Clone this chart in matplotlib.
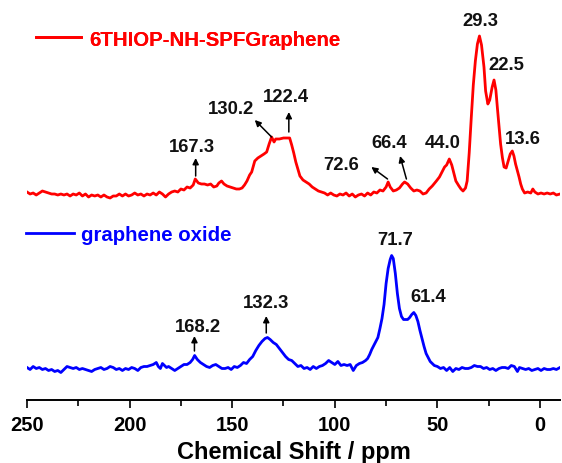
"""Solid-state 13C NMR spectra: 6THIOP-NH-SPFGraphene vs graphene oxide."""

import matplotlib.pyplot as plt
from matplotlib.ticker import MultipleLocator

plt.rcParams["font.family"] = ["Liberation Sans", "DejaVu Sans"]
plt.rcParams["font.weight"] = "bold"

# --- data (chemical shift in ppm, intensity in a.u. above each baseline) ---
red_ppm = [
    250, 248.5, 247, 245.5, 244, 242.5, 241, 239.5, 238, 236.5, 235, 233.5,
    232, 230.5, 229, 227.5, 226, 224.5, 223, 221.5, 220, 218.5, 217, 215.5,
    214, 212.5, 211, 209.5, 208, 206.5, 205, 203.5, 202, 200.5, 199, 197.5,
    196, 194.5, 193, 191.5, 190, 188.5, 187, 185.5, 184, 182.5, 181, 179.5,
    178, 176.5, 175, 173.5, 172, 170.5, 169, 168, 166.5, 165, 163.5, 162,
    160.5, 159, 157.5, 156.5, 155.2, 154, 152.5, 151, 149.5, 148, 146.5, 145.2,
    144, 142.8, 141.5, 140.5, 139, 137.5, 136, 134.5, 133.2, 132, 130.8, 129.6,
    128.8, 127, 125, 123.5, 122, 121, 120, 119, 118, 117, 115.5, 114,
    112.5, 111, 109.5, 108, 106.5, 105, 103.5, 102, 100.5, 99, 97.5, 96,
    94.5, 93, 91.5, 90, 88.5, 87, 85.5, 84, 82.5, 81, 79.5, 78,
    76.5, 75, 74, 73, 71.5, 70, 68.5, 67, 66, 64.5, 63, 61.5,
    60, 58.5, 57, 55.5, 54, 52.5, 50.5, 49, 47.5, 46.5, 45.5, 44.2,
    43, 42, 41, 39.5, 38.5, 37.5, 36.3, 35.5, 34.5, 33.5, 32.5, 31.5,
    30.5, 29.5, 28.5, 27.3, 26.5, 25.4, 24.5, 23.3, 22.4, 21.5, 20.8, 20,
    19.2, 18.3, 17.5, 16.5, 15.5, 14.5, 13.5, 12.7, 11.9, 11, 10.2, 9.4,
    8.6, 7.5, 6, 4.5, 3.5, 2.5, 1, -0.5, -2, -3.5, -5, -6.5,
    -8, -9.75,
]
red_int = [
    1, -1, 0, -2, 0, 2, 1, 0, -1, -1, -2, -1,
    -2, -1, -3, -1, -2, 0, -3, -1, -4, -2, -3, -2,
    -4, -2, -4, -5, -3, -3, -1, -3, -1, -3, -2, 0,
    -2, -1, -3, -1, -2, 0, -2, 1, -1, -4, -1, 1,
    2, 1, 4, 3, 6, 5, 8, 14, 10, 9, 9, 8,
    9, 6, 7, 10, 12, 9, 7, 6, 5, 4, 4, 5,
    8, 12, 18, 21, 32, 35, 37, 39, 41, 49, 56, 51,
    54, 54, 55, 55, 55, 48, 40, 31, 24, 17, 13, 11,
    9, 6, 4, 2, 1, 0, -2, 0, -2, -3, -1, -2,
    0, -3, -1, -4, -2, -1, -3, 0, -2, 1, 0, 3,
    2, 6, 11, 6, 2, 3, 5, 9, 11, 9, 5, 2,
    3, 2, -1, 0, 4, 7, 12, 16, 22, 26, 28, 34,
    28, 20, 12, 7, 4, 2, 5, 12, 40, 75, 108, 132,
    149, 157, 148, 126, 102, 89, 93, 106, 113, 103, 86, 68,
    49, 35, 26, 25, 32, 39, 42, 37, 29, 22, 16, 9,
    4, 0, 1, 0, 4, 1, -1, 0, -1, 0, -1, 0,
    -2, -1,
]

blue_ppm = [
    250, 248.5, 247, 245.5, 244, 242.5, 241, 239.5, 238, 236.5, 235, 233.5,
    232, 230.5, 229, 227.5, 226, 224.5, 223, 221.5, 220, 218.5, 217, 215.5,
    214, 212.5, 211, 209.5, 208, 206.5, 205, 203.5, 202, 200.5, 199, 197.5,
    196, 194.5, 193, 191.5, 190, 188.5, 187, 186, 185, 184, 183, 182,
    181, 179.5, 178, 176.5, 175, 173.5, 172, 170.5, 169.3, 168.3, 167, 165.5,
    164, 162.5, 161, 159.5, 158, 156.5, 155, 153.5, 152, 150.5, 149, 147.5,
    146, 144.5, 143, 141.5, 140, 138.5, 137, 135.5, 134, 132.8, 131.5, 130,
    128.5, 127, 125.5, 124, 122.5, 121, 119.5, 118, 116.5, 115, 113.5, 112,
    110.5, 109, 107.5, 106, 104.5, 103, 101.5, 100, 98.5, 97, 95.5, 94,
    92.5, 91, 89.5, 88, 86.5, 85, 84, 83, 82, 81, 80, 79,
    78, 77, 76, 75, 74, 73, 72.3, 71.5, 70.5, 69.5, 68.5, 67.5,
    66.5, 65.5, 64.5, 63.5, 62.5, 61.5, 60.5, 59.5, 58.5, 57.5, 56.5, 55.5,
    54.5, 53.5, 52.5, 51.5, 50, 48.5, 47, 45.5, 44, 42.5, 41, 39.5,
    38, 36.5, 35, 33.5, 32, 30.5, 29, 27.5, 26, 24.5, 23, 21.5,
    20, 18.5, 17, 15.5, 14, 12.5, 11, 10, 8.5, 7, 5.5, 4,
    2.5, 1, -0.5, -2, -3.5, -5, -6.5, -8, -9.75,
]
blue_int = [
    1, -1, 2, 0, 1, -1, 0, -2, -1, -3, -2, -4,
    -1, 2, 1, 0, 1, -1, 0, -1, -2, -3, -1, 0,
    1, -1, 0, 2, 1, -1, 0, -2, 0, -1, 1, 0,
    -2, 1, 2, 2, 3, 4, 6, 2, 0, 5, 3, 1,
    2, 0, -2, 0, 2, 4, 4, 6, 9, 13, 9, 6,
    4, 2, 1, 3, 4, 2, 0, 0, 1, -1, 2, 1,
    3, 6, 5, 9, 12, 18, 23, 27, 30, 31, 29, 26,
    24, 20, 16, 12, 9, 8, 5, 2, 3, 0, 1, -1,
    2, 0, 2, 3, 5, 8, 6, 4, 7, 3, 4, 3,
    4, -2, 3, 5, 6, 8, 10, 14, 19, 23, 27, 31,
    40, 50, 64, 85, 100, 109, 113, 110, 95, 75, 60, 52,
    49, 49, 49, 51, 54, 56, 53, 47, 38, 30, 22, 15,
    11, 7, 5, 3, 2, 0, 1, -2, 1, -3, 0, -1,
    1, 0, 0, 1, 3, 2, 2, 0, 1, -1, 0, -2,
    0, 1, 1, 0, 3, 2, -3, 1, 0, -1, 0, -2,
    -1, 0, -2, 0, -1, -1, 0, -1, 1,
]

red_label = "6THIOP-NH-SPFGraphene"
blue_label = "graphene oxide"

# vertical offsets of the stacked traces
red_offset = 207
blue_offset = 31.5

# peak labels: (text, text x, text y, arrow tail, arrow head) in data coords
red_peaks = [
    ("29.3", (28.9, 379), None, None),
    ("22.5", (16.3, 335), None, None),
    ("13.6", (8.4, 261), None, None),
    ("44.0", (47.2, 258), None, None),
    ("66.4", (73.4, 258), (65.1, 221), (68.2, 244)),
    ("72.6", (97.0, 236), (74.3, 221), (82.2, 233)),
    ("167.3", (169.6, 254), (167.8, 224), (167.8, 242)),
    ("130.2", (150.4, 291), (130.8, 263), (139.0, 280)),
    ("122.4", (123.8, 304), (122.4, 268), (122.4, 288)),
]
blue_peaks = [
    ("71.7", (70.8, 160), None, None),
    ("61.4", (54.7, 103), None, None),
    ("132.3", (133.4, 98), (133.4, 67), (133.4, 84)),
    ("168.2", (166.7, 73), (168.4, 49), (168.4, 64)),
]

fig = plt.figure(figsize=(5.62, 4.64), dpi=100)
ax = fig.add_axes([27 / 562, 63 / 464, 533 / 562, 396 / 464])

red_y = [v + red_offset for v in red_int]
blue_y = [v + blue_offset for v in blue_int]
(l_red,) = ax.plot(red_ppm, red_y, color="#ff0000", lw=2.0, solid_joinstyle="round")
(l_blue,) = ax.plot(blue_ppm, blue_y, color="#0000ff", lw=2.0, solid_joinstyle="round")

for text, xy_text, tail, head in red_peaks + blue_peaks:
    ax.text(xy_text[0], xy_text[1], text, ha="center", va="center",
            fontsize=13.3, fontweight="bold", color="#111111")
    if tail is not None:
        ax.annotate("", xy=head, xytext=tail,
                    arrowprops=dict(arrowstyle="-|>", color="black", lw=1.1,
                                    mutation_scale=9, shrinkA=0, shrinkB=0))

ax.set_xlim(250, -9.75)
ax.set_ylim(0, 396)
ax.xaxis.set_major_locator(MultipleLocator(50))
ax.xaxis.set_minor_locator(MultipleLocator(25))
ax.tick_params(axis="x", which="major", direction="out", length=6, width=1.2,
               labelsize=14.5, pad=5)
ax.tick_params(axis="x", which="minor", direction="out", length=4, width=1.2)
for lab in ax.get_xticklabels():
    lab.set_fontweight("bold")
ax.set_yticks([])
for side in ("left", "right", "top"):
    ax.spines[side].set_visible(False)
ax.spines["bottom"].set_linewidth(1.4)
ax.set_xlabel("Chemical Shift / ppm", fontsize=17, fontweight="bold", labelpad=4)

leg1 = fig.legend([l_red], [red_label], loc="center left",
                  bbox_to_anchor=(36 / 562, 424 / 464), frameon=False,
                  borderpad=0, borderaxespad=0, handlelength=2.2,
                  handletextpad=0.42, labelcolor="linecolor",
                  prop=dict(size=14.7, weight="bold"))
fig.legend([l_blue], [blue_label], loc="center left",
           bbox_to_anchor=(26 / 562, 228 / 464), frameon=False,
           borderpad=0, borderaxespad=0, handlelength=2.35,
           handletextpad=0.35, labelcolor="linecolor",
           prop=dict(size=14.7, weight="bold"))
fig.add_artist(leg1)

fig.savefig("out.png", dpi=100)
